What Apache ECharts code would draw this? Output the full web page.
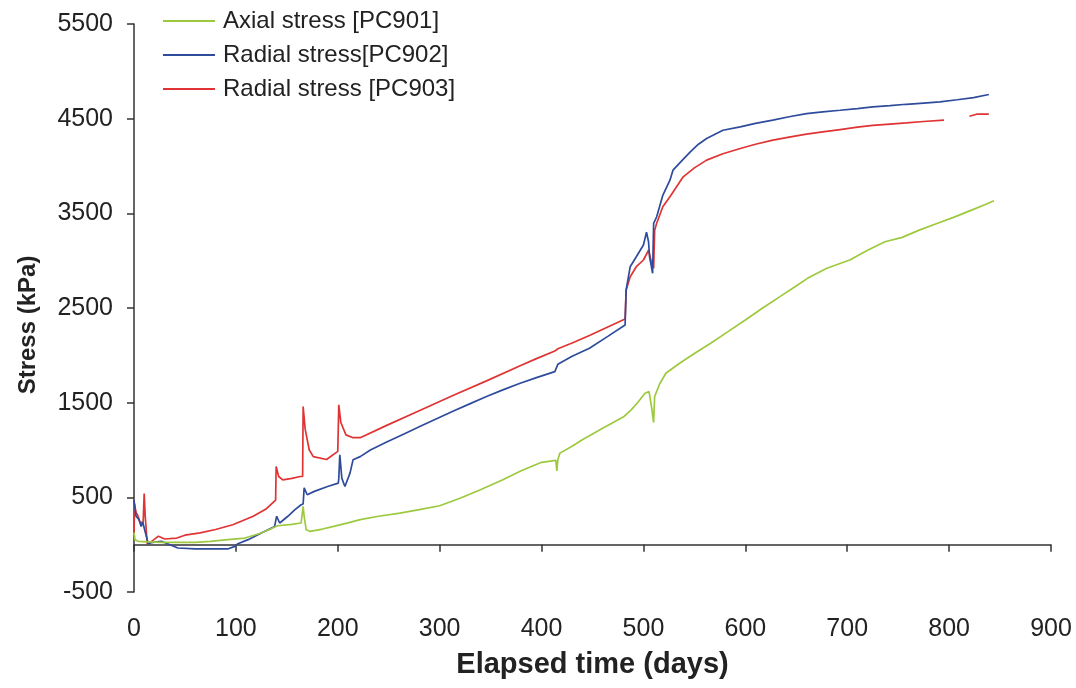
<!DOCTYPE html>
<html>
<head>
<meta charset="utf-8">
<script src="https://cdn.jsdelivr.net/npm/echarts@6/dist/echarts.min.js"></script>
<style>html,body{margin:0;padding:0;background:#fff}#c{width:1076px;height:688px}</style>
</head>
<body>
<div id="c"></div>
<script>
// ---- data ----
const seriesNames = ['Axial stress [PC901]', 'Radial stress[PC902]', 'Radial stress [PC903]'];
const xTicks = [0, 100, 200, 300, 400, 500, 600, 700, 800, 900];
const yTicks = [-500, 500, 1500, 2500, 3500, 4500, 5500];

const axialDays = [0, 1, 4, 15, 27, 45, 60, 75, 92, 109, 125, 141, 155, 164, 166, 167, 169, 173, 185, 196, 210, 222, 240, 261, 280, 300, 320, 340, 362, 380, 400, 414, 415, 416, 418, 430, 440, 460, 481, 488, 495, 501.5, 505.5, 508, 510, 511, 516, 522, 535.5, 550, 566, 583, 600, 617, 634, 648, 661, 680, 702.5, 720, 737, 754, 770, 788, 805, 822, 835, 844];
const axialStress = [126, 53, 35, 30, 24, 24, 24, 35, 53, 70, 123, 200, 215, 229, 404, 300, 158, 140, 165, 193, 230, 264, 300, 334, 370, 411, 490, 580, 686, 780, 870, 890, 780, 900, 967, 1040, 1108, 1230, 1354, 1424, 1510, 1600, 1617, 1450, 1290, 1565, 1700, 1811, 1917, 2020, 2128, 2250, 2374, 2500, 2620, 2720, 2813, 2920, 3007, 3110, 3200, 3246, 3320, 3393, 3460, 3534, 3590, 3632];

const radial902Days = [0, 1, 2, 5, 7, 8.5, 10, 14, 17, 22, 27, 33, 43, 60, 75, 92, 99, 102, 112, 125, 136, 138, 140, 143, 151, 158, 164, 166, 167, 170, 177, 190, 200.5, 201, 202, 204, 207, 212, 215, 222, 232, 248, 265, 281, 297, 313, 330, 346, 362, 379, 395, 413, 416, 430, 447, 465, 482, 483, 487, 493, 500, 503, 505, 506, 509, 510, 513, 519, 526, 529, 538, 546, 554, 562, 578, 595, 610, 627, 643, 660, 676, 693, 710, 725, 742, 758, 775, 791, 808, 824, 839];
const radial902Stress = [470, 380, 300, 264, 193, 240, 220, 10, 20, 30, 35, 10, -35, -45, -45, -45, -18, 10, 53, 123, 180, 193, 300, 229, 300, 370, 422, 430, 600, 527, 563, 615, 650, 700, 950, 700, 615, 756, 897, 930, 1000, 1085, 1170, 1250, 1330, 1410, 1490, 1565, 1635, 1705, 1765, 1828, 1905, 1990, 2075, 2200, 2321, 2690, 2936, 3041, 3165, 3300, 3200, 3041, 2866, 3394, 3464, 3690, 3850, 3956, 4060, 4150, 4230, 4290, 4378, 4413, 4450, 4484, 4520, 4554, 4572, 4589, 4607, 4624, 4638, 4652, 4665, 4677, 4700, 4723, 4755];

const radial903Days = [0, 0.5, 2, 4, 6, 9, 10, 11, 13, 18, 24, 30, 42, 50, 65, 80, 97, 117, 130, 139, 139.5, 142, 146, 155, 163, 165.5, 166, 168, 172, 176, 189, 200, 201, 203, 208, 215, 222, 248, 281, 313, 346, 379, 395, 413, 416, 430, 447, 465, 482, 483, 487, 493, 500, 505, 508, 510, 511, 513, 519, 526, 539, 550, 562, 578, 595, 610, 627, 643, 660, 676, 693, 710, 725, 742, 758, 775, 795, 805, 820, 827, 839];
const radial903Stress = [90, 430, 340, 300, 230, 240, 540, 300, 10, 40, 90, 60, 70, 100, 125, 160, 210, 300, 380, 470, 826, 720, 685, 700, 720, 720, 1460, 1220, 1000, 930, 900, 985, 1477, 1290, 1160, 1130, 1130, 1260, 1420, 1575, 1730, 1890, 1965, 2045, 2070, 2130, 2210, 2300, 2384, 2690, 2830, 2936, 3007, 3110, 2975, 2920, 3320, 3395, 3570, 3675, 3886, 3980, 4062, 4130, 4185, 4230, 4273, 4305, 4336, 4360, 4385, 4410, 4430, 4443, 4455, 4470, 4484, null, 4526, 4547, 4547];

const colors = ['#9dc93f', '#2f4c9c', '#e03434'];

function pairs(xs, ys) { return xs.map((x, i) => [x, ys[i] === null ? null : ys[i]]); }

const FONT = '"Liberation Sans", Arial, sans-serif';
const chart = echarts.init(document.getElementById('c'), null, { renderer: 'canvas' });
const lineSeries = [
  [axialDays, axialStress],
  [radial902Days, radial902Stress],
  [radial903Days, radial903Stress]
].map((d, i) => ({
  name: seriesNames[i],
  type: 'line',
  xAxisIndex: 0,
  yAxisIndex: 0,
  data: pairs(d[0], d[1]),
  symbol: 'none',
  showSymbol: false,
  connectNulls: false,
  animation: false,
  lineStyle: { color: colors[i], width: 1.7 },
  itemStyle: { color: colors[i] },
  z: 3 - i
}));

chart.setOption({
  animation: false,
  backgroundColor: '#fff',
  textStyle: { fontFamily: FONT },
  grid: { left: 134, right: 25, top: 24, bottom: 96, containLabel: false },
  legend: {
    data: seriesNames.map(n => ({ name: n, icon: 'rect' })),
    orient: 'vertical',
    left: 158, top: 4,
    itemWidth: 52, itemHeight: 2, itemGap: 10,
    textStyle: { fontSize: 24, color: '#222', fontFamily: FONT, padding: [0, 0, 0, 3] }
  },
  xAxis: [{
    type: 'value', min: 0, max: 900, interval: 100, position: 'bottom',
    axisLine: { show: false, onZero: false },
    axisTick: { show: false },
    splitLine: { show: false },
    axisLabel: { fontSize: 25, color: '#222', margin: 25, fontFamily: FONT, formatter: v => String(v) },
    name: 'Elapsed time (days)', nameLocation: 'middle', nameGap: 58,
    nameTextStyle: { fontSize: 29, fontWeight: 'bold', color: '#222', fontFamily: FONT }
  }, {
    type: 'value', min: 0, max: 900, interval: 100, position: 'top',
    axisLine: { show: true, onZero: true, lineStyle: { color: '#333', width: 1.5 } },
    axisTick: { show: true, inside: true, length: 7, lineStyle: { color: '#333', width: 1.5 } },
    axisLabel: { show: false },
    splitLine: { show: false }
  }],
  yAxis: {
    type: 'value', min: -500, max: 5500,
    axisLine: { show: true, lineStyle: { color: '#333', width: 1.5 } },
    axisTick: { show: true, length: 7, customValues: yTicks, lineStyle: { color: '#333', width: 1.5 } },
    axisLabel: { fontSize: 25, color: '#222', margin: 21, customValues: yTicks, fontFamily: FONT, formatter: v => String(v) },
    splitLine: { show: false },
    name: 'Stress (kPa)', nameLocation: 'middle', nameGap: 94,
    nameTextStyle: { fontSize: 24, fontWeight: 'bold', color: '#222', fontFamily: FONT, padding: [0, 34, 0, 0] }
  },
  series: lineSeries
});
</script>
</body>
</html>
